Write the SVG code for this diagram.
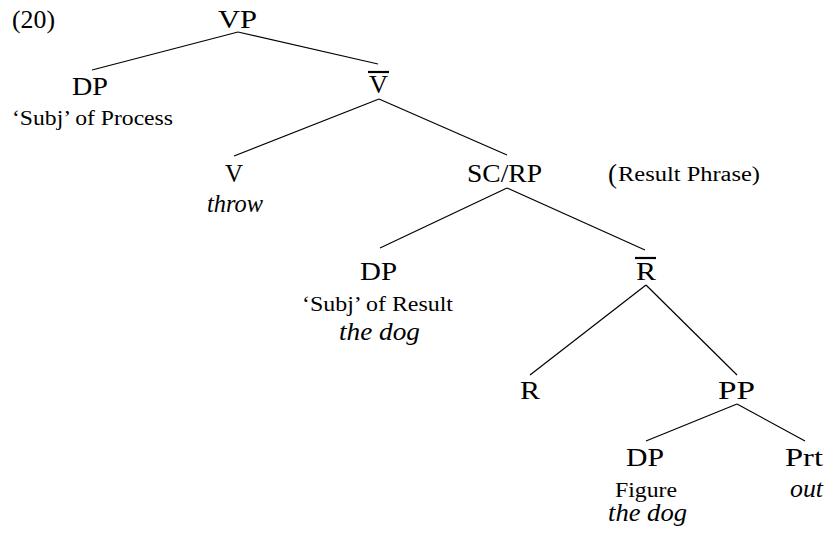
<svg xmlns="http://www.w3.org/2000/svg" width="828" height="535" viewBox="0 0 828 535">
<style>
text { font-family: "Liberation Serif", "DejaVu Serif", "Noto Serif", "Tinos", "FreeSerif", "Times New Roman", Times, serif; fill: #000; }
.lab { font-size: 25px; }
.sm { font-size: 20px; }
.it { font-size: 25px; font-style: italic; }
.edge { stroke: #000; stroke-width: 1.2; fill: none; }
.bar { stroke: #000; stroke-width: 2.2; }
</style>
<rect width="828" height="535" fill="#fff"/>
<text id="exnum" class="lab" x="12" y="28" textLength="43" lengthAdjust="spacingAndGlyphs">(20)</text>
<g id="connectors">
<line class="edge" x1="238" y1="32" x2="92" y2="70"/>
<line class="edge" x1="238" y1="32" x2="378" y2="64"/>
<line class="edge" x1="379" y1="99" x2="234" y2="156"/>
<line class="edge" x1="379" y1="99" x2="507" y2="155"/>
<line class="edge" x1="507" y1="188" x2="380" y2="248"/>
<line class="edge" x1="507" y1="188" x2="645" y2="250"/>
<line class="edge" x1="646" y1="285" x2="530" y2="375"/>
<line class="edge" x1="646" y1="285" x2="737" y2="375"/>
<line class="edge" x1="737" y1="404" x2="646" y2="441"/>
<line class="edge" x1="737" y1="404" x2="805" y2="441"/>
</g>
<g id="VP">
<text class="lab" x="218" y="28" textLength="39" lengthAdjust="spacingAndGlyphs">VP</text>
</g>
<g id="DP1">
<text class="lab" x="72" y="95" textLength="36" lengthAdjust="spacingAndGlyphs">DP</text>
<text class="sm" x="12" y="125" textLength="161" lengthAdjust="spacingAndGlyphs">‘Subj’ of Process</text>
</g>
<g id="Vbar">
<line class="bar" x1="368" y1="72" x2="389" y2="72"/>
<text class="lab" x="369" y="93" textLength="19" lengthAdjust="spacingAndGlyphs">V</text>
</g>
<g id="V">
<text class="lab" x="225" y="182" textLength="18" lengthAdjust="spacingAndGlyphs">V</text>
<text class="it" x="207" y="212" textLength="56" lengthAdjust="spacingAndGlyphs">throw</text>
</g>
<g id="SCRP">
<text class="lab" x="467" y="182" textLength="75" lengthAdjust="spacingAndGlyphs">SC/RP</text>
<text x="608" y="183" style="font-size:27px">(</text>
<text class="sm" x="618" y="181" textLength="142" lengthAdjust="spacingAndGlyphs">Result Phrase)</text>
</g>
<g id="DP2">
<text class="lab" x="360" y="280" textLength="37" lengthAdjust="spacingAndGlyphs">DP</text>
<text class="sm" x="302" y="311" textLength="151" lengthAdjust="spacingAndGlyphs">‘Subj’ of Result</text>
<text class="it" x="339" y="340" textLength="81" lengthAdjust="spacingAndGlyphs">the dog</text>
</g>
<g id="Rbar">
<line class="bar" x1="635" y1="258" x2="656" y2="258"/>
<text class="lab" x="636" y="280" textLength="20" lengthAdjust="spacingAndGlyphs">R</text>
</g>
<g id="R">
<text class="lab" x="520" y="399" textLength="20" lengthAdjust="spacingAndGlyphs">R</text>
</g>
<g id="PP">
<text class="lab" x="718" y="399" textLength="37" lengthAdjust="spacingAndGlyphs">PP</text>
</g>
<g id="DP3">
<text class="lab" x="626" y="466" textLength="38" lengthAdjust="spacingAndGlyphs">DP</text>
<text class="sm" x="615" y="497" textLength="62" lengthAdjust="spacingAndGlyphs">Figure</text>
<text class="it" x="608" y="521" textLength="79" lengthAdjust="spacingAndGlyphs">the dog</text>
</g>
<g id="Prt">
<text class="lab" x="785" y="466" textLength="38" lengthAdjust="spacingAndGlyphs">Prt</text>
<text class="it" x="790" y="497" textLength="33" lengthAdjust="spacingAndGlyphs">out</text>
</g>
</svg>
